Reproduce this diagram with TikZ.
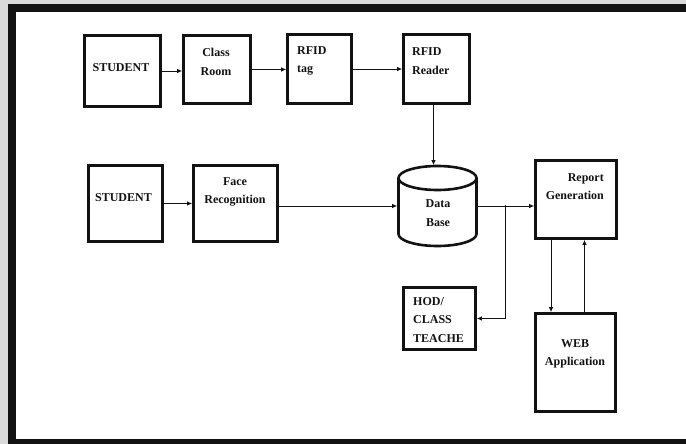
\documentclass[tikz,border=0pt]{standalone}
\usepackage{fontspec}
\setmainfont{Liberation Serif}
\usetikzlibrary{arrows.meta}
\definecolor{ink}{RGB}{18,18,18}
\definecolor{margin}{RGB}{218,218,218}

\tikzset{
  blk/.style={draw=ink,line width=2.6pt,inner sep=0pt},
  lbl/.style={font=\fontsize{12}{18.5}\selectfont\bfseries,
    text=ink,inner sep=0pt,align=center},
  conn/.style={draw=ink,line width=0.9pt,
    -{Latex[length=5pt,width=4.5pt]}},
}

\begin{document}
\begin{tikzpicture}[x=1pt,y=-1pt]
  \useasboundingbox (0,0) rectangle (686,444);
  \clip (0,0) rectangle (686,444);
  \fill[margin] (0,0) rectangle (686,444);
  \draw[ink,fill=white,line width=8pt] (12,8) rectangle (700,443);

  % top row: rfid path
  \node[blk,minimum width=76,minimum height=71] (stuA) at (122.5,71) {};
  \node[blk,minimum width=67,minimum height=68] (room) at (217,69.5) {};
  \node[blk,minimum width=64,minimum height=69] (tag) at (319.5,69) {};
  \node[blk,minimum width=66,minimum height=69] (reader) at (436.5,69) {};
  \node[lbl] (stuA-t) at (121,68) {STUDENT};
  \node[lbl] (room-t) at (216,62) {Class\\Room};
  \node[lbl,align=left,anchor=west] (tag-t) at (297,61) {RFID\\tag};
  \node[lbl,align=left,anchor=west] (reader-t) at (412,61) {RFID\\Reader};

  % middle row: face path
  \node[blk,minimum width=74,minimum height=76] (stuB) at (125.5,203.5) {};
  \node[blk,minimum width=84,minimum height=76] (face) at (235.5,203.5) {};
  \node[blk,draw=none,minimum width=78,minimum height=79] (db) at (437.5,206) {};
  \draw[ink,line width=2.6pt] (437.5,178) ellipse [x radius=39,y radius=12];
  \draw[ink,line width=2.6pt] (398.5,178) -- (398.5,234)
    arc[start angle=180,end angle=0,x radius=39,y radius=12] -- (476.5,178);
  \node[blk,minimum width=81,minimum height=78] (report) at (576,199.5) {};
  \node[lbl] (stuB-t) at (123.5,198) {STUDENT};
  \node[lbl] (face-t) at (235,192) {Face\\Recognition};
  \node[lbl] (db-t) at (438,213) {Data\\Base};
  \node[lbl,align=right,anchor=east] (report-t) at (604,186.5) {Report\\Generation};

  % bottom: outputs
  \node[blk,minimum width=72,minimum height=62] (hod) at (439.5,318.5) {};
  \node[blk,minimum width=80,minimum height=98] (web) at (575.5,362.5) {};
  \node[lbl,align=left,anchor=west] (hod-t) at (413,320) {HOD/\\CLASS\\TEACHE};
  \node[lbl] (web-t) at (575,354) {WEB\\Application};

  \coordinate (fork) at (505,205);

  \draw[conn] (stuA.east) -- (stuA.east -| room.west);
  \draw[conn] (room.east) -- (room.east -| tag.west);
  \draw[conn] (tag.east) -- (tag.east -| reader.west);
  \draw[conn] ([xshift=-3pt]reader.south) -- ([xshift=-3pt]reader.south |- db.north);
  \draw[conn] (stuB.east) -- (face.west);
  \draw[conn] (db.west -| face.east) -- (db.west);
  \draw[conn] (db.east) -- (db.east -| report.west);
  \draw[conn] (fork) |- (hod.east);
  \draw[conn] ([xshift=-25pt]report.south) -- ([xshift=-25pt]report.south |- web.north);
  \draw[conn] ([xshift=9pt]web.north) -- ([xshift=9pt]web.north |- report.south);
\end{tikzpicture}
\end{document}
